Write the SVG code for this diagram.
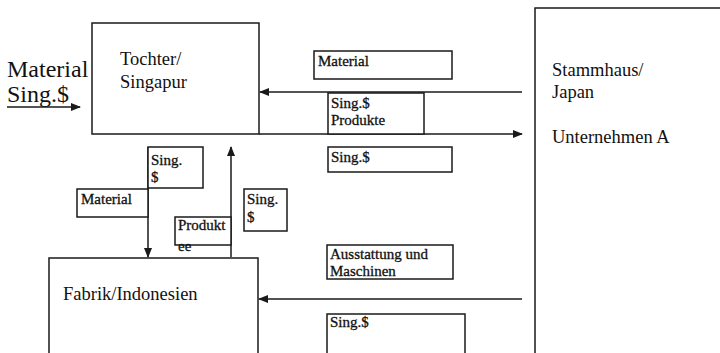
<svg xmlns="http://www.w3.org/2000/svg" width="720" height="353" viewBox="0 0 720 353">
<style>
.box{fill:#fff;stroke:#1a1a1a;stroke-width:1.5}
.big{font-family:"Liberation Serif","Times New Roman",serif;font-size:18.5px;fill:#111}
.sm{font-family:"Liberation Serif","Times New Roman",serif;font-size:15px;fill:#111;stroke:#111;stroke-width:0.3}
.huge{font-family:"Liberation Serif","Times New Roman",serif;font-size:24px;fill:#111}
.ln{stroke:#1a1a1a;stroke-width:1.5;fill:none}
</style>
<defs>
<marker id="ah" markerWidth="10" markerHeight="8" refX="9" refY="4" orient="auto" markerUnits="userSpaceOnUse">
<path d="M0,0 L10,4 L0,8 Z" fill="#1a1a1a"/>
</marker>
</defs>
<rect width="720" height="353" fill="#fff"/>
<g id="stammhaus">
<rect class="box" x="535" y="8" width="200" height="360"/>
<text class="big" x="552" y="76">Stammhaus/</text>
<text class="big" x="552" y="98">Japan</text>
<text class="big" x="552" y="143">Unternehmen A</text>
</g>
<g id="tochter">
<rect class="box" x="92" y="23" width="167" height="111"/>
<text class="big" x="120" y="65">Tochter/</text>
<text class="big" x="120" y="88">Singapur</text>
</g>
<g id="fabrik">
<rect class="box" x="49" y="258" width="209" height="110"/>
<text class="big" x="63" y="300">Fabrik/Indonesien</text>
</g>
<g id="external-label">
<text class="huge" x="7" y="77">Material</text>
<text class="huge" x="7" y="102">Sing.$</text>
</g>
<g id="connectors">
<line class="ln" x1="7" y1="107" x2="80" y2="107" marker-end="url(#ah)"/>
<line class="ln" x1="522" y1="92" x2="260" y2="92" marker-end="url(#ah)"/>
<line class="ln" x1="259" y1="134" x2="522" y2="134" marker-end="url(#ah)"/>
<line class="ln" x1="148" y1="147" x2="148" y2="257" marker-end="url(#ah)"/>
<line class="ln" x1="231" y1="257" x2="231" y2="147" marker-end="url(#ah)"/>
<line class="ln" x1="522" y1="299" x2="259" y2="299" marker-end="url(#ah)"/>
</g>
<g id="lbl-material-top">
<rect class="box" x="314" y="51" width="138" height="28"/>
<text class="sm" x="318" y="66">Material</text>
</g>
<g id="lbl-sing-produkte">
<rect class="box" x="328" y="93" width="96" height="41"/>
<text class="sm" x="331" y="108">Sing.$</text>
<text class="sm" x="331" y="125">Produkte</text>
</g>
<g id="lbl-sing-mid">
<rect class="box" x="328" y="147" width="124" height="25"/>
<text class="sm" x="331" y="162">Sing.$</text>
</g>
<g id="lbl-sing-left">
<rect class="box" x="148" y="147" width="55" height="41"/>
<text class="sm" x="151" y="165">Sing.</text>
<text class="sm" x="151" y="182">$</text>
</g>
<g id="lbl-material-left">
<rect class="box" x="77" y="189" width="71" height="28"/>
<text class="sm" x="81" y="204">Material</text>
</g>
<g id="lbl-produkte">
<rect class="box" x="175" y="217" width="56" height="28"/>
<text class="sm" x="178" y="230">Produkt</text>
<text class="sm" x="178" y="251">ee</text>
</g>
<g id="lbl-sing-right">
<rect class="box" x="244" y="189" width="43" height="42"/>
<text class="sm" x="247" y="204">Sing.</text>
<text class="sm" x="247" y="222">$</text>
</g>
<g id="lbl-ausstattung">
<rect class="box" x="327" y="245" width="126" height="34"/>
<text class="sm" x="330" y="259">Ausstattung und</text>
<text class="sm" x="330" y="276">Maschinen</text>
</g>
<g id="lbl-sing-bottom">
<rect class="box" x="327" y="314" width="138" height="50"/>
<text class="sm" x="330" y="327">Sing.$</text>
</g>
</svg>
